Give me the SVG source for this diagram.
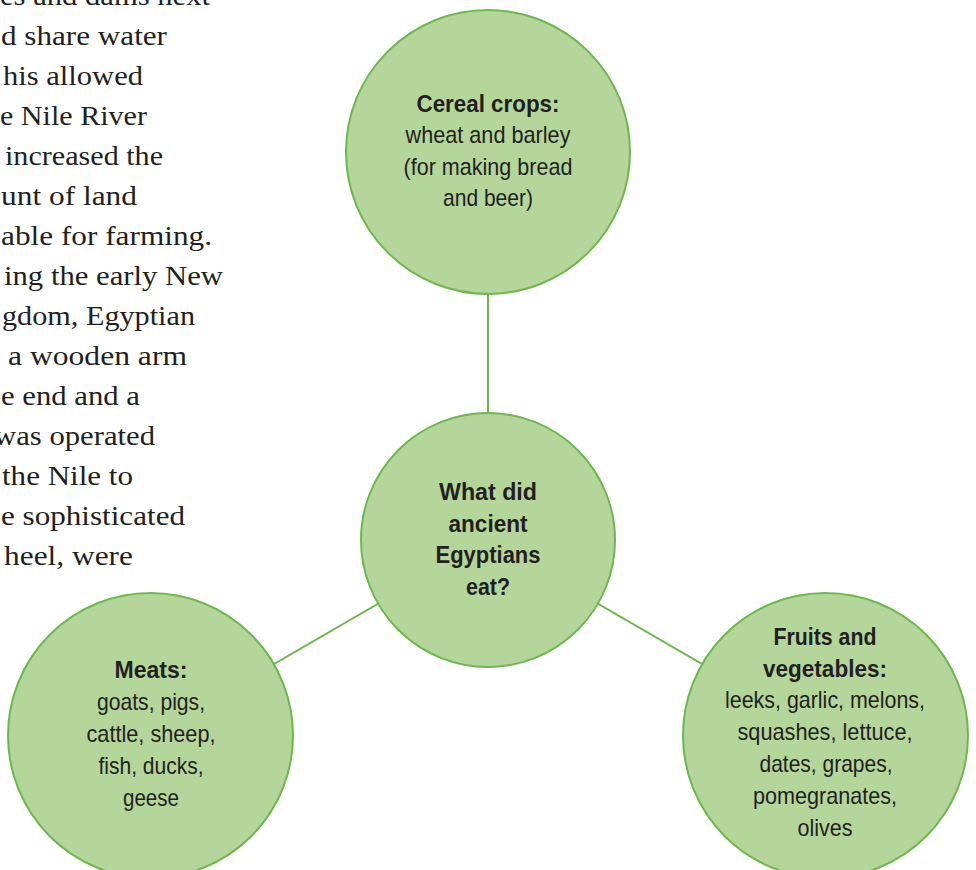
<svg xmlns="http://www.w3.org/2000/svg" width="976" height="870" viewBox="0 0 976 870">
<style>
.body{font-family:"Liberation Serif","DejaVu Serif",serif;font-size:27px;fill:#231f20}
.node{fill:#b4d69b;stroke:#6db84c;stroke-width:2}
.conn{stroke:#6db84c;stroke-width:2;fill:none}
.t{font-family:"Liberation Sans Narrow","Liberation Sans",Arial,sans-serif;font-size:24px;fill:#231f20;text-anchor:middle}
.b{font-weight:bold}
</style>
<rect width="976" height="870" fill="#ffffff"/>
<g id="body-text" class="body">
<text x="0" y="5" textLength="210" lengthAdjust="spacingAndGlyphs">es and dams next</text>
<text x="1" y="45" textLength="166" lengthAdjust="spacingAndGlyphs">d share water</text>
<text x="3" y="85" textLength="140" lengthAdjust="spacingAndGlyphs">his allowed</text>
<text x="0" y="125" textLength="147" lengthAdjust="spacingAndGlyphs">e Nile River</text>
<text x="5" y="165" textLength="158" lengthAdjust="spacingAndGlyphs">increased the</text>
<text x="1" y="205" textLength="136" lengthAdjust="spacingAndGlyphs">unt of land</text>
<text x="1" y="245" textLength="211" lengthAdjust="spacingAndGlyphs">able for farming.</text>
<text x="4" y="285" textLength="219" lengthAdjust="spacingAndGlyphs">ing the early New</text>
<text x="2" y="325" textLength="193" lengthAdjust="spacingAndGlyphs">gdom, Egyptian</text>
<text x="8" y="365" textLength="179" lengthAdjust="spacingAndGlyphs">a wooden arm</text>
<text x="1" y="405" textLength="139" lengthAdjust="spacingAndGlyphs">e end and a</text>
<text x="-6" y="445" textLength="161" lengthAdjust="spacingAndGlyphs">was operated</text>
<text x="2" y="485" textLength="131" lengthAdjust="spacingAndGlyphs">the Nile to</text>
<text x="1" y="525" textLength="184" lengthAdjust="spacingAndGlyphs">e sophisticated</text>
<text x="4" y="565" textLength="129" lengthAdjust="spacingAndGlyphs">heel, were</text>
</g>
<g id="connectors">
<line class="conn" x1="488" y1="152" x2="488" y2="540"/>
<line class="conn" x1="150.5" y1="735.5" x2="488" y2="540"/>
<line class="conn" x1="825.5" y1="735.5" x2="488" y2="540"/>
</g>
<g id="cereal">
<circle class="node" cx="488" cy="152" r="142"/>
<text class="t b" x="488" y="112" textLength="143" lengthAdjust="spacingAndGlyphs">Cereal crops:</text>
<text class="t" x="488" y="143" textLength="165" lengthAdjust="spacingAndGlyphs">wheat and barley</text>
<text class="t" x="488" y="175" textLength="169" lengthAdjust="spacingAndGlyphs">(for making bread</text>
<text class="t" x="488" y="206" textLength="90" lengthAdjust="spacingAndGlyphs">and beer)</text>
</g>
<g id="center">
<circle class="node" cx="488" cy="540" r="127"/>
<text class="t b" x="488" y="500" textLength="98" lengthAdjust="spacingAndGlyphs">What did</text>
<text class="t b" x="488" y="532" textLength="79" lengthAdjust="spacingAndGlyphs">ancient</text>
<text class="t b" x="488" y="563" textLength="105" lengthAdjust="spacingAndGlyphs">Egyptians</text>
<text class="t b" x="488" y="595" textLength="44" lengthAdjust="spacingAndGlyphs">eat?</text>
</g>
<g id="meats">
<circle class="node" cx="150.5" cy="735.5" r="142.5"/>
<text class="t b" x="151" y="678" textLength="73" lengthAdjust="spacingAndGlyphs">Meats:</text>
<text class="t" x="151" y="710" textLength="108" lengthAdjust="spacingAndGlyphs">goats, pigs,</text>
<text class="t" x="151" y="742" textLength="129" lengthAdjust="spacingAndGlyphs">cattle, sheep,</text>
<text class="t" x="151" y="774" textLength="105" lengthAdjust="spacingAndGlyphs">fish, ducks,</text>
<text class="t" x="151" y="806" textLength="56" lengthAdjust="spacingAndGlyphs">geese</text>
</g>
<g id="fruits">
<circle class="node" cx="825.5" cy="735.5" r="142.5"/>
<text class="t b" x="825" y="645" textLength="103" lengthAdjust="spacingAndGlyphs">Fruits and</text>
<text class="t b" x="825" y="677" textLength="124" lengthAdjust="spacingAndGlyphs">vegetables:</text>
<text class="t" x="825" y="708" textLength="200" lengthAdjust="spacingAndGlyphs">leeks, garlic, melons,</text>
<text class="t" x="825" y="740" textLength="175" lengthAdjust="spacingAndGlyphs">squashes, lettuce,</text>
<text class="t" x="826" y="772" textLength="133" lengthAdjust="spacingAndGlyphs">dates, grapes,</text>
<text class="t" x="825" y="804" textLength="144" lengthAdjust="spacingAndGlyphs">pomegranates,</text>
<text class="t" x="825" y="836" textLength="55" lengthAdjust="spacingAndGlyphs">olives</text>
</g>
</svg>
